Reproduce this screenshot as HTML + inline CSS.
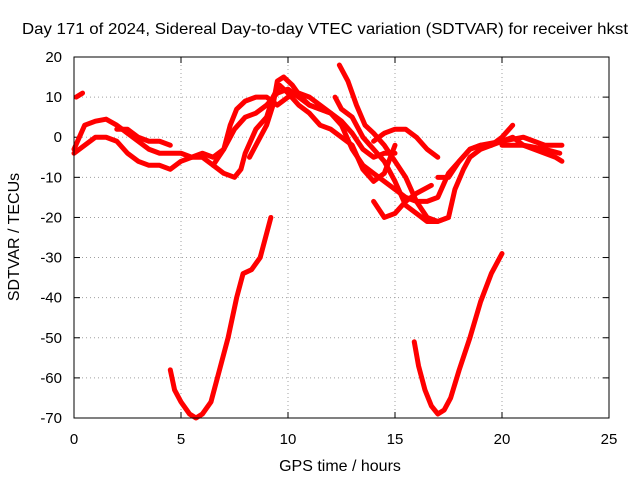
<!DOCTYPE html>
<html><head><meta charset="utf-8"><style>
body{margin:0;background:#fff}
svg{display:block;font-family:"Liberation Sans",sans-serif}
</style></head><body>
<svg id="chart" width="640" height="480">
<text x="325" y="34" font-size="16" text-anchor="middle" textLength="606" lengthAdjust="spacingAndGlyphs">Day 171 of 2024, Sidereal Day-to-day VTEC variation (SDTVAR) for receiver hkst</text>
<g id="grid"></g>
<g id="axes"></g>
<g id="series"></g>
<rect x="74" y="57" width="535" height="361" fill="none" stroke="#000"/>
<text x="340" y="471" font-size="16" text-anchor="middle">GPS time / hours</text>
<text transform="translate(19,237) rotate(-90)" font-size="16" text-anchor="middle">SDTVAR / TECUs</text>
</svg>
<script>
const xTicks=[0,5,10,15,20,25];
const yTicks=[20,10,0,-10,-20,-30,-40,-50,-60,-70];
const trackA=[[0.1,10],[0.4,11]];
const trackB=[[0,-3],[0.5,3],[1,4],[1.5,4.5],[2,3],[2.5,1],[3,-1],[3.5,-3],[4,-4],[4.5,-4],[5,-4],[5.5,-5],[6,-5],[6.5,-7],[7,-9],[7.5,-10],[7.8,-8],[8,-4],[8.5,2],[9,5],[9.3,10],[9.6,13],[10,11],[10.5,8],[11,6],[11.5,3],[12,2],[12.5,0],[13,-2],[13.5,-8],[14,-11],[14.5,-9],[15,-2]];
const trackC=[[0,-4],[0.5,-2],[1,0],[1.5,0],[2,-1],[2.5,-4],[3,-6],[3.5,-7],[4,-7],[4.5,-8],[5,-6],[5.5,-5],[6,-4],[6.5,-5],[7,-3],[7.3,3],[7.6,7],[8,9],[8.5,10],[9,10],[9.5,8],[10,10],[10.5,11],[11,10],[11.5,8],[12,6],[12.5,4],[13,1],[13.5,-3],[14,-5],[14.5,-4],[15,-4]];
const trackD=[[2,2],[2.5,2],[3,0],[3.5,-1],[4,-1],[4.5,-2]];
const trackE=[[6.5,-7],[7,-3],[7.5,2],[8,5],[8.5,6],[9,8],[9.5,11],[10,12],[10.5,10],[11,8],[11.5,7],[12,6],[12.5,3],[13,-3],[13.5,-7],[14,-9],[14.5,-11],[15,-13],[15.5,-15],[16,-16],[16.5,-16],[17,-15],[17.5,-9],[18,-6],[18.5,-3],[19,-2],[19.5,-2],[20,-1],[20.5,0],[21,-2],[21.5,-3],[22,-4],[22.5,-5],[22.8,-6]];
const trackF=[[8.2,-5],[8.5,-2],[9,3],[9.3,8],[9.5,14],[9.8,15],[10.2,13],[10.6,10],[11,8],[11.5,7],[12,6]];
const trackG=[[12.4,18],[12.8,14],[13.2,8],[13.6,3],[14,1],[14.5,-2],[15,-6],[15.5,-10],[16,-16],[16.5,-20],[17,-21],[17.5,-20],[17.8,-13],[18.2,-8],[18.5,-5],[19,-3],[19.5,-2],[20,0],[20.5,3]];
const trackH=[[12.2,10],[12.5,7],[13,5],[13.5,0],[14,-3],[14.5,-6],[15,-11],[15.5,-17],[16,-19],[16.5,-21],[17,-21],[17.5,-20]];
const trackI=[[14,-16],[14.5,-20],[15,-19],[15.5,-16],[16,-14],[16.7,-12]];
const trackJ=[[14,-1],[14.5,1],[15,2],[15.5,2],[16,0],[16.5,-3],[17,-5]];
const trackK=[[17,-10],[17.5,-10],[18,-6],[18.5,-3],[19,-2],[20,-1],[21,0],[22,-2],[22.8,-2]];
const trackL=[[20,-2],[21,-2],[22,-3],[22.7,-4]];
const arc1=[[4.5,-58],[4.7,-63],[5,-66],[5.4,-69],[5.7,-70],[6,-69],[6.4,-66],[6.8,-58],[7.2,-50],[7.6,-40],[7.9,-34],[8.3,-33],[8.7,-30],[9,-24],[9.2,-20]];
const arc2=[[15.9,-51],[16.1,-57],[16.4,-63],[16.7,-67],[17,-69],[17.3,-68],[17.6,-65],[18,-58],[18.5,-50],[19,-41],[19.5,-34],[20,-29]];
const tracks=[trackA,trackB,trackC,trackD,trackE,trackF,trackG,trackH,trackI,trackJ,trackK,trackL,arc1,arc2];

const X0=74,X1=609,Y0=57,Y1=418;
const sx=v=>X0+(v-0)/25*(X1-X0);
const sy=v=>Y0+(20-v)/90*(Y1-Y0);
const NS="http://www.w3.org/2000/svg";
const grid=document.getElementById('grid'),axes=document.getElementById('axes'),ser=document.getElementById('series');
function mk(t,a){const e=document.createElementNS(NS,t);for(const k in a)e.setAttribute(k,a[k]);return e;}
xTicks.forEach(t=>{
  const x=sx(t);
  if(t>0&&t<25){const g=mk('line',{x1:x,x2:x,y1:Y0,y2:Y1,stroke:'#a0a0a0','stroke-dasharray':'1,3'});
  
  grid.appendChild(g);}
  axes.appendChild(mk('line',{x1:x,x2:x,y1:Y1,y2:Y1-6,stroke:'#000'}));
  axes.appendChild(mk('line',{x1:x,x2:x,y1:Y0,y2:Y0+6,stroke:'#000'}));
  const l=mk('text',{x:x,y:444,'font-size':15,'text-anchor':'middle'});l.textContent=t;
  
  axes.appendChild(l);
});
yTicks.forEach(t=>{
  const y=sy(t);
  if(t<20&&t>-70){const g=mk('line',{x1:X0,x2:X1,y1:y,y2:y,stroke:'#a0a0a0','stroke-dasharray':'1,3'});
  
  grid.appendChild(g);}
  axes.appendChild(mk('line',{x1:X0,x2:X0+6,y1:y,y2:y,stroke:'#000'}));
  axes.appendChild(mk('line',{x1:X1,x2:X1-6,y1:y,y2:y,stroke:'#000'}));
  const l=mk('text',{x:62,y:y+5,'font-size':15,'text-anchor':'end'});l.textContent=t;
  
  axes.appendChild(l);
});
tracks.forEach(tr=>{
  const p=mk('polyline',{points:tr.map(d=>sx(d[0])+','+sy(d[1])).join(' '),fill:'none',stroke:'#f00','stroke-width':5,'stroke-linejoin':'round','stroke-linecap':'round'});
  
  
  ser.appendChild(p);
});
</script>
</body></html>
